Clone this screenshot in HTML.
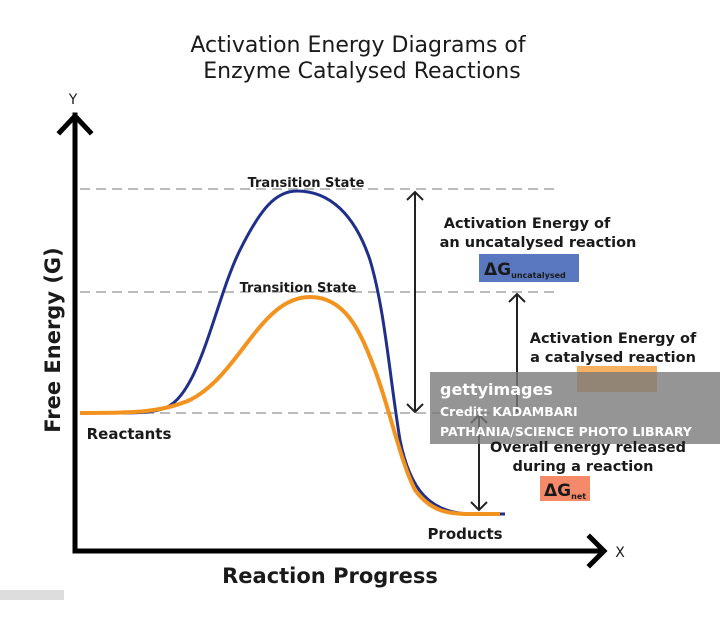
<!DOCTYPE html>
<html><head><meta charset="utf-8"><style>
body{margin:0;background:#fff}
svg text{font-family:"DejaVu Sans","Liberation Sans",sans-serif;fill:#1a1a1a;font-weight:bold}
</style></head><body>
<svg width="720" height="612" viewBox="0 0 720 612" xmlns="http://www.w3.org/2000/svg">
<rect width="720" height="612" fill="#fff"/>
<text x="358" y="52" font-size="22" text-anchor="middle" font-weight="normal" style="font-weight:500">Activation Energy Diagrams of</text>
<text x="362" y="78" font-size="22" text-anchor="middle" style="font-weight:500">Enzyme Catalysed Reactions</text>
<g stroke="#bbb" stroke-width="2" stroke-dasharray="10,6">
<line x1="80" y1="189" x2="555" y2="189"/>
<line x1="80" y1="292" x2="555" y2="292"/>
<line x1="80" y1="413" x2="555" y2="413"/>
</g>
<g stroke="#000" stroke-width="5" fill="none" stroke-linecap="square">
<line x1="75" y1="115" x2="75" y2="551"/>
<line x1="75" y1="551" x2="600" y2="551"/>
<polyline points="60,132 75,116 90,132"/>
<polyline points="590,537 604,551 590,565"/>
</g>
<text x="73" y="104" font-size="14" text-anchor="middle" style="font-weight:normal">Y</text>
<text x="620" y="557" font-size="14" text-anchor="middle" style="font-weight:normal">X</text>
<text x="60" y="340" font-size="21" text-anchor="middle" transform="rotate(-90 60 340)">Free Energy (G)</text>
<text x="330" y="583" font-size="21" text-anchor="middle">Reaction Progress</text>
<path d="M80,413 C130,413 150,414 165,408 C200,395 215,300 240,250 C260,210 275,191 297,191 C330,191 355,215 370,260 C385,310 390,380 400,440 C410,490 430,513 470,514 L505,514" fill="none" stroke="#1f2f8a" stroke-width="3"/>
<path d="M80,413 C130,413 160,413 190,400 C240,375 260,297 310,297 C345,297 360,330 375,370 C390,410 400,460 415,490 C430,510 445,514 470,514 L500,514" fill="none" stroke="#f3931f" stroke-width="4"/>
<text x="306" y="187" font-size="13" text-anchor="middle">Transition State</text>
<text x="298" y="292" font-size="13" text-anchor="middle">Transition State</text>
<text x="129" y="439" font-size="15" text-anchor="middle">Reactants</text>
<text x="465" y="539" font-size="15" text-anchor="middle">Products</text>
<g stroke="#222" stroke-width="2" fill="none">
<line x1="415" y1="192" x2="415" y2="412"/>
<polyline points="407,200 415,192 423,200"/><polyline points="407,404 415,412 423,404"/>
<line x1="517" y1="294" x2="517" y2="412"/>
<polyline points="509,302 517,294 525,302"/>
<line x1="479" y1="415" x2="479" y2="510"/>
<polyline points="471,423 479,415 487,423"/><polyline points="471,502 479,510 487,502"/>
</g>
<text x="527" y="228" font-size="14.5" text-anchor="middle">Activation Energy of</text>
<text x="538" y="247" font-size="14.5" text-anchor="middle">an uncatalysed reaction</text>
<rect x="479" y="254" width="100" height="28" fill="#5a78c0"/>
<text x="484" y="275" font-size="17">ΔG<tspan font-size="8" dy="3">uncatalysed</tspan></text>
<text x="613" y="343" font-size="14.5" text-anchor="middle">Activation Energy of</text>
<text x="613" y="362" font-size="14.5" text-anchor="middle">a catalysed reaction</text>
<rect x="577" y="366" width="80" height="26" fill="#f5b060"/>
<rect x="430" y="372" width="290" height="72" fill="#7a7a7a" opacity="0.8"/>
<text x="440" y="395" font-size="16" style="fill:#fff">gettyimages</text>
<text x="440" y="416" font-size="12.5" style="fill:#fff">Credit: KADAMBARI</text>
<text x="440" y="436" font-size="12.5" style="fill:#fff">PATHANIA/SCIENCE PHOTO LIBRARY</text>
<text x="588" y="452" font-size="14.5" text-anchor="middle">Overall energy released</text>
<text x="583" y="471" font-size="14.5" text-anchor="middle">during a reaction</text>
<rect x="540" y="476" width="50" height="25" fill="#f58a6a"/>
<text x="544" y="496" font-size="17">ΔG<tspan font-size="8" dy="3">net</tspan></text>
<rect x="0" y="590" width="64" height="10" fill="#ddd"/>
</svg>
</body></html>
